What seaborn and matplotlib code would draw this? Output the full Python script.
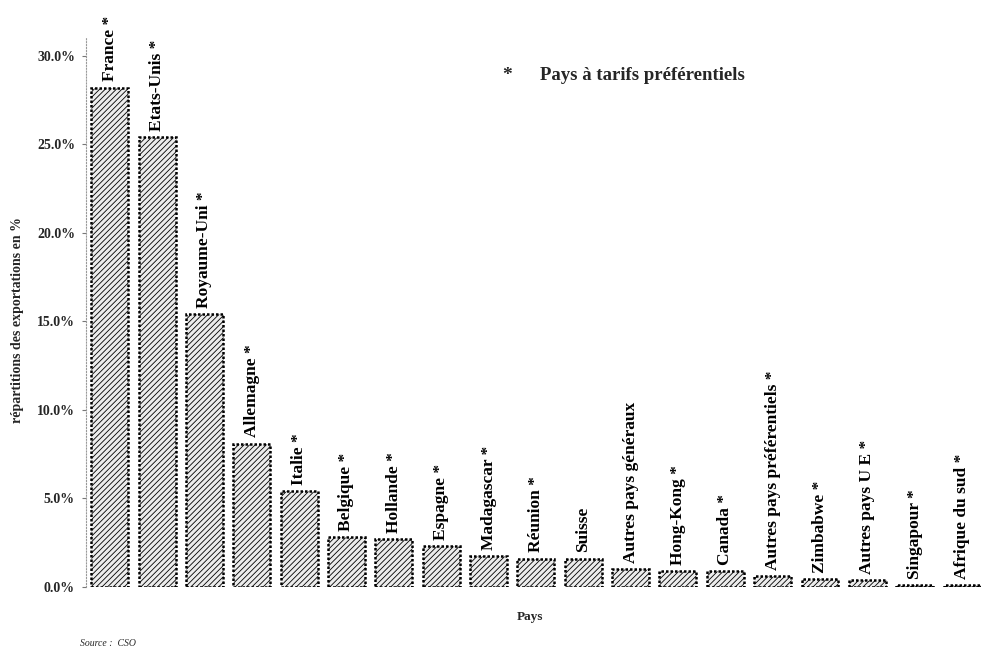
import matplotlib
matplotlib.use("Agg")
import matplotlib.pyplot as plt
import seaborn as sns
import pandas as pd

# données (part des exportations, en %)
pays = ["France", "Etats-Unis", "Royaume-Uni", "Allemagne", "Italie",
        "Belgique", "Hollande", "Espagne", "Madagascar", "Réunion",
        "Suisse", "Autres pays généraux", "Hong-Kong", "Canada",
        "Autres pays préférentiels", "Zimbabwe", "Autres pays U E",
        "Singapour", "Afrique du sud"]
parts = [28.2, 25.4, 15.4, 8.1, 5.4,
         2.8, 2.7, 2.3, 1.75, 1.6,
         1.6, 1.0, 0.9, 0.9,
         0.6, 0.45, 0.4,
         0.12, 0.12]
preferentiel = [True, True, True, True, True,
                True, True, True, True, True,
                False, False, True, True,
                True, True, True,
                True, True]
yticks = [0, 5, 10, 15, 20, 25, 30]

df = pd.DataFrame({"Pays": pays, "Part": parts})

sns.set_theme(style="white")
plt.rcParams['font.family'] = ['Liberation Serif', 'DejaVu Serif']
plt.rcParams['hatch.color'] = '#a5a5a5'
plt.rcParams['hatch.linewidth'] = 0.6

fig = plt.figure(figsize=(9.81, 6.55), dpi=100)
ax = fig.add_axes([86 / 981, 68 / 655, 895 / 981, 549 / 655])

sns.barplot(data=df, x="Pays", y="Part", color="#ececec", width=0.78,
            edgecolor="black", linewidth=1.8, linestyle=(0, (1, 0.8)), ax=ax)
for bar in ax.patches:
    bar.set_hatch("//////")

# étiquettes verticales au-dessus des barres
for i, (nom, val, pref) in enumerate(zip(pays, parts, preferentiel)):
    txt = nom + (" *" if pref else "")
    ax.text(i, val + 0.35, txt, rotation=90, ha="center", va="bottom",
            fontsize=12.5, fontweight="bold", color="black")

ax.set_xlim(-0.5, 18.4)
ax.set_ylim(0, 31)
ax.set_yticks(yticks)
ax.set_yticklabels([f"{v:.1f}%" for v in yticks], fontsize=10, fontweight="bold")
ax.set_xticks([])
ax.set_xlabel("")
ax.set_ylabel("")
ax.tick_params(axis="y", length=3, width=0.8, color="#777777", pad=5, left=True)

for s in ["top", "right", "bottom"]:
    ax.spines[s].set_visible(False)
ax.spines["left"].set_linestyle(":")
ax.spines["left"].set_color("#999999")
ax.spines["left"].set_linewidth(0.8)

fig.text(18 / 981, 1 - 320 / 655, "répartitions des exportations en %",
         rotation=90, ha="center", va="center", fontsize=10, fontweight="bold")
fig.text(530 / 981, 1 - 617 / 655, "Pays", ha="center", va="center",
         fontsize=9.5, fontweight="bold")
fig.text(80 / 981, 1 - 643 / 655, "Source :  CSO", ha="left", va="center",
         fontsize=7, style="italic")

fig.text(507 / 981, 1 - 76 / 655, "*", ha="center", va="center",
         fontsize=14, fontweight="bold")
fig.text(540 / 981, 1 - 76 / 655, "Pays à tarifs préférentiels", ha="left",
         va="center", fontsize=13.5, fontweight="bold")

fig.savefig("out.png", dpi=100, facecolor="white")
